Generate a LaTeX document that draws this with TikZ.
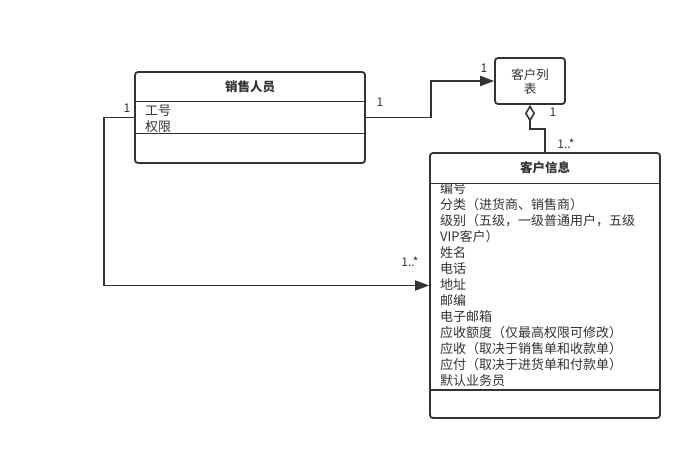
\documentclass[tikz,border=0pt]{standalone}
\usepackage{fontspec}
\setmainfont{Noto Sans CJK SC}
\usetikzlibrary{arrows.meta}
\definecolor{ln}{HTML}{333333}
\tikzset{
  umlbox/.style={draw=ln,line width=1.8pt,rounded corners=3pt,fill=white,inner sep=0pt},
  conn/.style={draw=ln,line width=1.8pt},
  arr/.style={conn,-{Triangle[length=14pt,width=10pt]}},
  agg/.style={conn,{Diamond[open,length=17pt,width=10pt,line width=1.6pt]}-},
  lbl/.style={font=\fontsize{12}{14}\selectfont,text=ln,inner sep=0pt},
  ttl/.style={font=\fontsize{12.5}{14}\selectfont\bfseries,text=ln,inner sep=0pt},
  attr/.style={font=\fontsize{13}{16}\selectfont,text=ln,inner sep=0pt,anchor=base west}
}
\begin{document}
\begin{tikzpicture}[x=1pt,y=-1pt]
\useasboundingbox[fill=white] (0,0) rectangle (691,450);
% boxes
\node[umlbox,minimum width=230pt,minimum height=91pt] (sales) at (250,117.5) {};
\node[umlbox,minimum width=70pt,minimum height=46pt] (list) at (530,81) {};
\node[umlbox,minimum width=230pt,minimum height=265pt] (info) at (545,285.5) {};
% sales compartments
\node[ttl] (salesT) at (250,87) {销售人员};
\draw[conn] (135,101.5) -- (365,101.5);
\draw[conn] (135,133.5) -- (365,133.5);
\node[attr] (sa1) at (145,115) {工号};
\node[attr] (sa2) at (145,131) {权限};
% list text
\node[lbl,align=center,font=\fontsize{12.5}{14}\selectfont] (listT) at (530,82) {客户列\\表};
% info compartments
\node[ttl] (infoT) at (545,168) {客户信息};
\begin{scope}
\clip (431,183.5) rectangle (659,389);
\foreach \t [count=\i from 0] in {{编号},{分类（进货商、销售商）},{级别（五级，一级普通用户，五级},{VIP客户）},{姓名},{电话},{地址},{邮编},{电子邮箱},{应收额度（仅最高权限可修改）},{应收（取决于销售单和收款单）},{应付（取决于进货单和付款单）},{默认业务员}}
  \node[attr] (ia\i) at (440,193+16*\i) {\t};
\end{scope}
\draw[conn] (430,183.5) -- (660,183.5);
\draw[conn] (430,390) -- (660,390);
% connectors
\draw[arr] (sales.east) -- ++(65,0) |- (list.west);
\draw[arr] (sales.west) -- ++(-30,0) |- (info.west);
\draw[agg] (list.south) -- ++(0,24) -| (info.north);
% multiplicities
\node[lbl] (m1) at (380,102) {1};
\node[lbl] (m2) at (484,68) {1};
\node[lbl] (m3) at (127,108) {1};
\node[lbl] (m4) at (553,112) {1};
\node[lbl] (m5) at (566,144) {1..*};
\node[lbl] (m6) at (410,262) {1..*};
\end{tikzpicture}
\end{document}
